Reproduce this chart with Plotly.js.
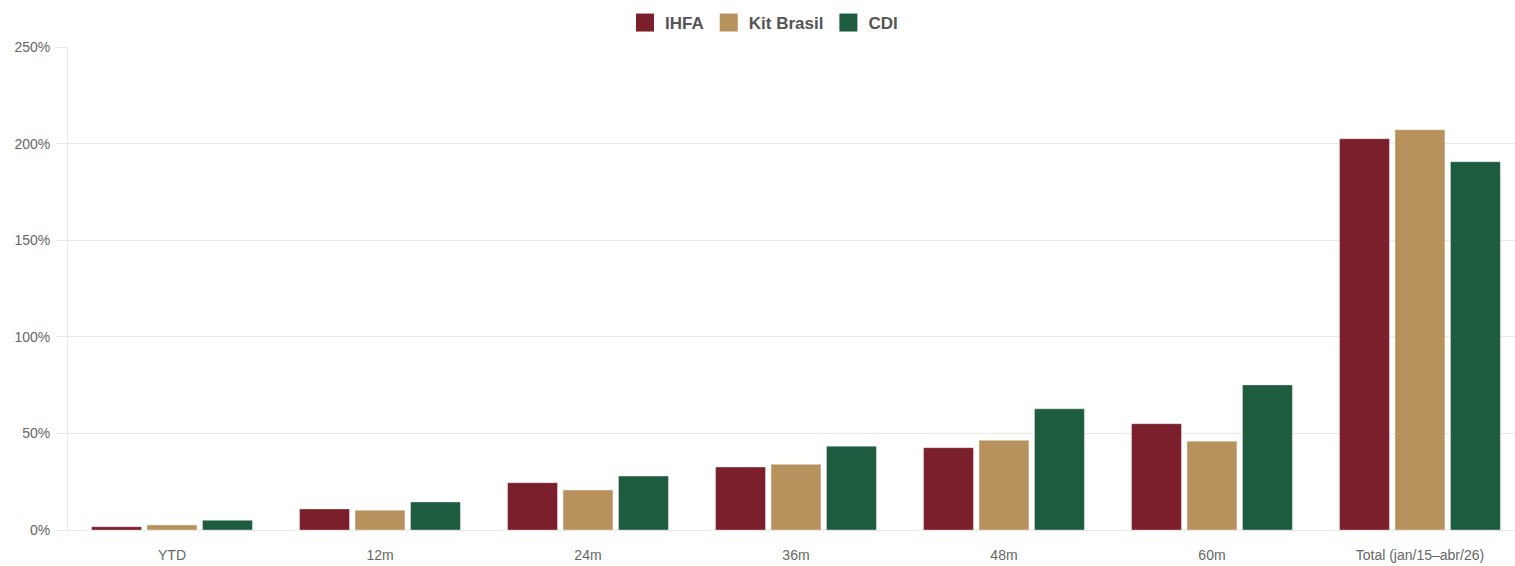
<!DOCTYPE html>
<html>
<head>
<meta charset="utf-8">
<script src="https://cdn.plot.ly/plotly-3.0.1.min.js"></script>
<style>
  html, body { margin: 0; padding: 0; background: #ffffff; }
  #chart { width: 1515px; height: 566px; }
</style>
</head>
<body>
<div id="chart"></div>
<script>
// Cumulative returns by period (%)
const periods = ["YTD", "12m", "24m", "36m", "48m", "60m", "Total (jan/15\u2013abr/26)"];
const ihfa = [1.7, 10.9, 24.5, 32.6, 42.6, 55.0, 202.5];
const kitBrasil = [2.6, 10.2, 20.7, 34.0, 46.4, 46.0, 207.2];
const cdi = [5.0, 14.5, 27.9, 43.4, 62.7, 75.1, 190.6];

const seriesNames = ["IHFA", "Kit Brasil", "CDI"];
const seriesColors = ["#7b1f2c", "#b8925c", "#1e5c3f"];
const seriesValues = [ihfa, kitBrasil, cdi];

const yTicks = [0, 50, 100, 150, 200, 250];
const yTickText = yTicks.map(v => v + "%");

const traces = seriesValues.map((vals, i) => ({
  type: "bar",
  name: seriesNames[i],
  x: periods,
  y: vals,
  marker: {
    color: seriesColors[i],
    line: { color: "rgba(255,255,255,0.35)", width: 1 }
  },
  hovertemplate: "%{x}<br>" + seriesNames[i] + ": %{y:.1f}%<extra></extra>"
}));

const gridColor = "#ebe7e1";

const layout = {
  width: 1515,
  height: 566,
  margin: { l: 68, r: 0, t: 47, b: 36, autoexpand: false },
  paper_bgcolor: "#ffffff",
  plot_bgcolor: "#ffffff",
  font: { family: "Liberation Sans, Arial, sans-serif", size: 14, color: "#666666" },
  barmode: "group",
  bargap: 0.2,
  bargroupgap: 0.1,
  showlegend: true,
  legend: {
    orientation: "h",
    x: 0.481,
    xanchor: "center",
    y: 1.0497,
    yanchor: "middle",
    font: { family: "Liberation Sans, Arial, sans-serif", size: 17, color: "#555555", weight: "bold" },
    itemclick: false,
    itemdoubleclick: false
  },
  xaxis: {
    type: "category",
    range: [-0.5, 6.457],
    showgrid: false,
    showline: true,
    linecolor: gridColor,
    linewidth: 1,
    ticks: "",
    ticklabelstandoff: 12,
    tickfont: { size: 14, color: "#666666" },
    zeroline: false,
    fixedrange: true
  },
  yaxis: {
    range: [0, 250],
    tickvals: yTicks,
    ticktext: yTickText,
    showgrid: true,
    gridcolor: gridColor,
    gridwidth: 1,
    showline: true,
    linecolor: gridColor,
    ticks: "outside",
    ticklen: 11,
    tickcolor: gridColor,
    ticklabelstandoff: 3,
    tickfont: { size: 14, color: "#666666" },
    zeroline: false,
    fixedrange: true
  }
};

// Enlarge the square legend swatches to 18px
function enlargeLegendSwatches(gd) {
  gd.querySelectorAll(".legend .legendpoints path").forEach(p => {
    const base = (p.getAttribute("data-base-transform") !== null)
      ? p.getAttribute("data-base-transform")
      : (p.getAttribute("transform") || "");
    p.setAttribute("data-base-transform", base);
    p.setAttribute("transform", base + " scale(1.5)");
    p.style.strokeWidth = "0";
  });
}

Plotly.newPlot("chart", traces, layout, { displayModeBar: false }).then(gd => {
  enlargeLegendSwatches(gd);
  gd.on("plotly_afterplot", () => enlargeLegendSwatches(gd));
});
</script>
</body>
</html>
